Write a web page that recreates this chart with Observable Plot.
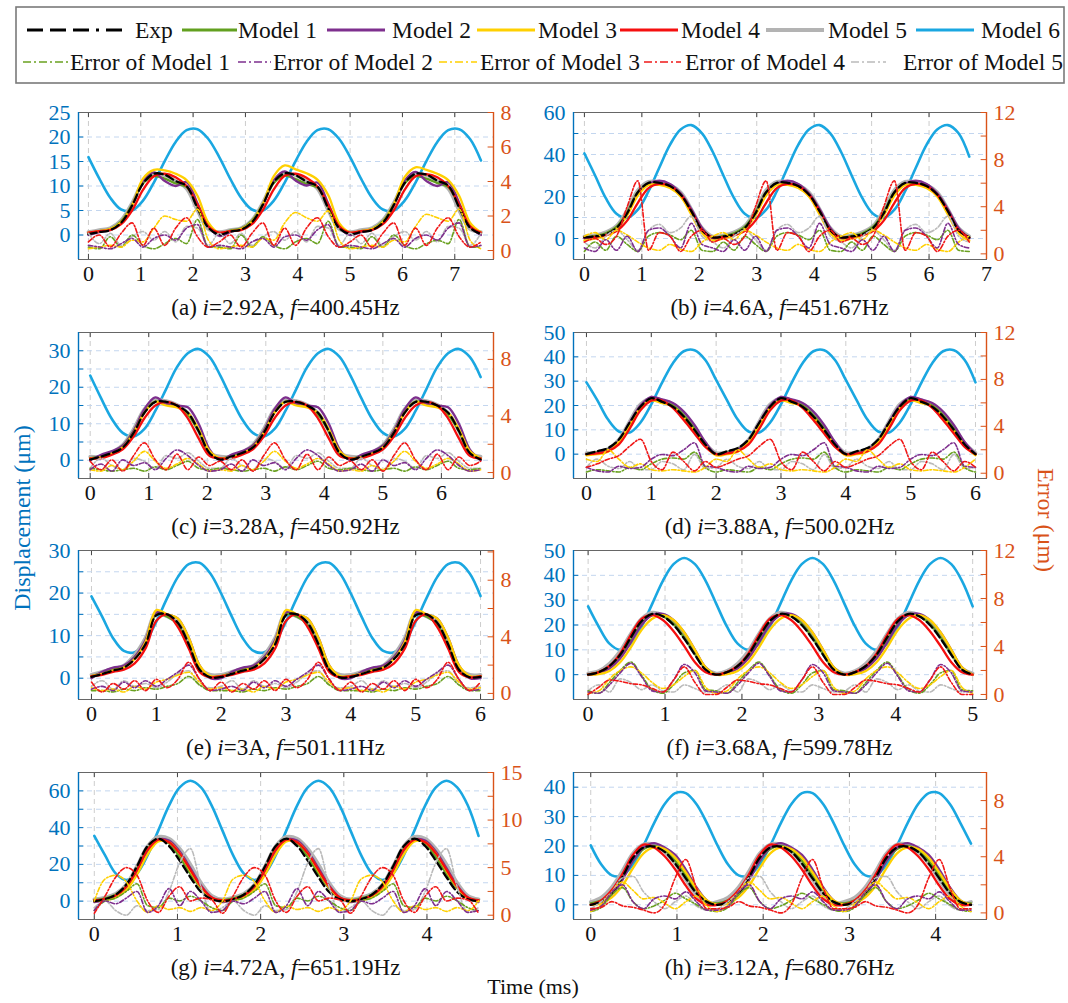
<!DOCTYPE html>
<html><head><meta charset="utf-8">
<script src="https://cdn.jsdelivr.net/npm/d3@7"></script>
<script src="https://cdn.jsdelivr.net/npm/@observablehq/plot@0.6"></script>
<style>
body{margin:0;background:#fff;font-family:"Liberation Serif",serif;}
#root{position:relative;width:1068px;height:1003px;overflow:hidden;background:#fff;}
.abs{position:absolute;}
.cap{position:absolute;transform:translate(-50%,-50%);font-size:23px;white-space:nowrap;color:#111;line-height:1;}
</style></head><body><div id="root"></div>
<script>
// ---------------- DATA ----------------
// panel captions
const panelTags = ["(a)","(b)","(c)","(d)","(e)","(f)","(g)","(h)"];
const currents = ["2.92","4.6","3.28","3.88","3","3.68","4.72","3.12"];
const freqs = ["400.45","451.67","450.92","500.02","501.11","599.78","651.19","680.76"];
// time span of the sampled records (ms)
const tEnd = [7.5, 6.7, 6.67, 6.0, 6.0, 5.0, 4.62, 4.41];
// axes
const xMin = [-0.19,-0.19,-0.2,-0.2,-0.2,-0.19,-0.19,-0.2];
const xMax = [7.74,7.0,6.89,6.17,6.2,5.18,4.8,4.59];
const xTickMax = [7,7,6,6,6,5,4,4];
const leftDomain = [[-5,25],[-10,60],[-5,35],[-10,50],[-5,30],[-10,50],[-10,70],[-5,45]];
const leftLabels = [[0,5,10,15,20,25],[0,20,40,60],[0,10,20,30],[0,10,20,30,40,50],[0,10,20,30],[0,10,20,30,40,50],[0,20,40,60],[0,10,20,30,40]];
const leftGrid = [[0,5,10,15,20],[0,10,20,30,40,50],[0,5,10,15,20,25,30],[0,10,20,30,40],[0,5,10,15,20,25],[0,10,20,30,40],[0,10,20,30,40,50,60],[0,10,20,30,40]];
const rightDomain = [[-0.52,8],[-0.48,12],[-0.42,9.9],[-0.45,12],[-0.43,10.1],[-0.42,12],[-0.45,15],[-0.47,10]];
const rightLabels = [[0,2,4,6,8],[0,4,8,12],[0,4,8],[0,4,8,12],[0,4,8],[0,4,8,12],[0,5,10,15],[0,4,8]];
const rightTicks = [[0,2,4,6,8],[0,2,4,6,8,10,12],[0,2,4,6,8],[0,2,4,6,8,10,12],[0,2,4,6,8,10],[0,2,4,6,8,10,12],[0,2.5,5,7.5,10,12.5,15],[0,2,4,6,8,10]];

// (a) i=2.92A f=400.45Hz
const a_exp = [0.2,0.6,1.0,2.5,6.0,10.5,12.5,12.3,11.0,10.0,5.5,1.5, 0.1,0.7,1.1,2.6,6.2,10.8,12.6,12.2,10.9,9.9,5.4,1.4, 0.2,0.6,1.0,2.5,6.1,10.6,12.5,12.3,11.1,10.1,5.6,1.5, 0.2];
const a_m1 = [0.3,0.8,1.2,2.8,6.2,10.5,12.0,11.5,10.5,9.8,5.8,1.8, 0.3,0.9,1.3,2.9,6.3,10.6,12.1,11.4,10.4,9.7,5.7,1.7, 0.3,0.8,1.2,2.8,6.2,10.5,12.0,11.5,10.6,9.8,5.9,1.8, 0.3];
const a_m2 = [0.0,0.6,1.1,2.5,6.0,11.0,12.8,11.0,10.0,10.8,6.5,1.8, -0.2,0.6,1.2,2.6,6.1,11.2,13.0,11.1,10.1,10.7,6.4,1.7, 0.0,0.6,1.1,2.5,6.0,11.1,12.9,11.0,10.0,10.8,6.6,1.8, 0.0];
const a_m3 = [0.5,0.8,1.2,2.6,6.0,11.5,13.3,13.2,12.5,11.2,8.0,2.5, 0.4,0.8,1.2,2.7,6.3,12.0,14.2,13.4,12.6,11.3,8.1,2.4, 0.5,0.8,1.2,2.6,6.2,11.8,13.8,13.3,12.5,11.2,8.0,2.5, 0.5];
const a_m4 = [0.5,0.8,1.0,2.2,5.0,9.2,12.0,12.5,11.8,10.0,6.2,1.8, 0.5,0.8,1.0,2.2,5.1,9.3,12.1,12.5,11.7,9.9,6.1,1.8, 0.5,0.8,1.0,2.2,5.0,9.2,12.0,12.4,11.8,10.0,6.2,1.8, 0.5];
const a_m5 = [0.6,1.0,1.4,3.0,6.5,10.8,12.5,12.2,11.0,9.5,5.0,1.2, 0.6,1.0,1.4,3.0,6.6,10.9,12.6,12.2,11.0,9.5,5.0,1.2, 0.6,1.0,1.4,3.0,6.5,10.8,12.5,12.2,11.0,9.5,5.0,1.2, 0.6];
const a_m6 = [15.9,11.5,7.6,5.2,5.0,7.0,10.7,15.1,19.0,21.4,21.6,19.6, 15.9,11.5,7.6,5.2,5.0,7.0,10.7,15.1,19.0,21.4,21.6,19.6, 15.9,11.5,7.6,5.2,5.0,7.0,10.7,15.1,19.0,21.4,21.6,19.6, 15.2];
const a_e1 = [0.2,0.1,0.8,0.2,0.9,0.3,0.1,0.4,0.7,0.4,1.8,0.2, 0.2,0.1,0.9,0.2,0.8,0.3,0.1,0.5,0.7,0.4,1.7,0.2, 0.2,0.1,0.8,0.2,0.9,0.3,0.1,0.4,0.6,0.4,1.8,0.2, 0.2];
const a_e2 = [0.3,0.2,0.1,0.4,0.7,0.2,0.7,0.9,0.6,1.3,1.5,0.2, 0.3,0.2,0.1,0.5,0.7,0.2,0.8,0.9,0.6,1.2,1.5,0.2, 0.3,0.2,0.1,0.4,0.7,0.2,0.7,0.9,0.6,1.3,1.6,0.2, 0.3];
const a_e3 = [0.1,0.2,0.3,0.2,0.6,0.5,1.3,2.0,1.8,1.7,2.4,0.6, 0.1,0.2,0.3,0.2,0.7,0.6,1.6,2.2,1.9,1.7,2.3,0.6, 0.1,0.2,0.3,0.2,0.6,0.5,1.4,2.1,1.9,1.7,2.4,0.6, 0.1];
const a_e4 = [0.5,0.9,0.2,1.0,1.6,0.3,1.3,0.3,1.3,1.9,0.8,0.2, 0.5,0.9,0.2,1.0,1.6,0.3,1.3,0.3,1.3,1.9,0.8,0.2, 0.5,0.9,0.2,1.0,1.6,0.3,1.3,0.3,1.3,1.9,0.8,0.2, 0.5];
const a_e5 = [1.0,0.4,1.0,0.3,0.8,1.1,0.6,1.1,0.5,1.4,1.3,0.3, 1.0,0.4,1.0,0.3,0.8,1.1,0.6,1.1,0.5,1.4,1.3,0.3, 1.0,0.4,1.0,0.3,0.8,1.1,0.6,1.1,0.5,1.4,1.3,0.3, 1.0];

// (b) i=4.6A f=451.67Hz
const b_exp = [0.5,1.0,2.0,5.0,12.0,22.0,26.5,26.5,25.0,21.0,13.0,4.0, 0.5,1.0,2.0,5.0,12.0,22.0,26.5,26.5,25.0,21.0,13.0,4.0, 0.5,1.0,2.0,5.0,12.0,22.0,26.5,26.5,25.0,21.0,13.0,4.0, 0.5];
const b_m1 = [0.5,1.2,2.5,5.5,12.5,22.0,26.0,26.0,24.5,20.5,12.5,4.0, 0.5,1.2,2.5,5.5,12.5,22.0,26.0,26.0,24.5,20.5,12.5,4.0, 0.5,1.2,2.5,5.5,12.5,22.0,26.0,26.0,24.5,20.5,12.5,4.0, 0.5];
const b_m2 = [0.0,0.5,1.8,4.5,11.5,21.5,26.0,27.5,26.0,21.5,14.0,5.0, 0.0,0.5,1.8,4.5,11.5,21.5,26.0,27.5,26.0,21.5,14.0,5.0, 0.0,0.5,1.8,4.5,11.5,21.5,26.0,27.5,26.0,21.5,14.0,5.0, 0.0];
const b_m3 = [-1.0,0.0,1.5,4.5,11.0,20.5,25.5,25.5,24.0,20.0,11.5,2.5, -1.0,0.0,1.5,4.5,11.0,20.5,25.5,25.5,24.0,20.0,11.5,2.5, -1.0,0.0,1.5,4.5,11.0,20.5,25.5,25.5,24.0,20.0,11.5,2.5, -1.0];
const b_m4 = [0.5,0.8,1.5,3.5,8.5,17.0,24.0,26.0,25.0,21.0,13.0,4.0, 0.5,0.8,1.5,3.5,8.5,17.0,24.0,26.0,25.0,21.0,13.0,4.0, 0.5,0.8,1.5,3.5,8.5,17.0,24.0,26.0,25.0,21.0,13.0,4.0, 0.5];
const b_m5 = [1.0,1.5,3.0,6.0,13.5,23.0,27.0,27.0,25.5,22.0,14.0,5.0, 1.0,1.5,3.0,6.0,13.5,23.0,27.0,27.0,25.5,22.0,14.0,5.0, 1.0,1.5,3.0,6.0,13.5,23.0,27.0,27.0,25.5,22.0,14.0,5.0, 1.0];
const b_m6 = [40.5,30.0,19.2,11.8,9.8,13.7,22.5,33.7,44.6,51.9,54.0,50.1, 41.3,30.0,19.2,11.8,9.8,13.7,22.5,33.7,44.6,51.9,54.0,50.1, 41.3,30.0,19.2,11.8,9.8,13.7,22.5,33.7,44.6,51.9,54.0,50.1, 39.0];
const b_e1 = [0.2,1.0,0.3,1.5,0.8,0.2,1.5,1.8,1.6,1.2,2.0,0.3, 0.2,1.0,0.3,1.5,0.8,0.2,1.5,1.8,1.6,1.2,2.0,0.3, 0.2,1.0,0.3,1.5,0.8,0.2,1.5,1.8,1.6,1.2,2.0,0.3, 0.2];
const b_e2 = [0.5,0.2,1.2,0.3,1.5,0.2,2.0,2.2,1.5,0.5,2.6,0.8, 0.5,0.2,1.2,0.3,1.5,0.2,2.0,2.2,1.5,0.5,2.6,0.8, 0.5,0.2,1.2,0.3,1.5,0.2,2.0,2.2,1.5,0.5,2.6,0.8, 0.5];
const b_e3 = [1.5,1.8,1.2,2.0,1.6,1.0,0.5,0.3,0.8,0.4,0.2,1.0, 1.5,1.8,1.2,2.0,1.6,1.0,0.5,0.3,0.8,0.4,0.2,1.0, 1.5,1.8,1.2,2.0,1.6,1.0,0.5,0.3,0.8,0.4,0.2,1.0, 1.5];
const b_e4 = [1.0,1.3,0.8,1.5,4.0,6.2,0.3,1.8,1.5,0.2,1.5,2.0, 1.0,1.3,0.8,1.5,4.0,6.2,0.3,1.8,1.5,0.2,1.5,2.0, 1.0,1.3,0.8,1.5,4.0,6.2,0.3,1.8,1.5,0.2,1.5,2.0, 1.0];
const b_e5 = [1.0,0.5,1.5,2.0,1.2,0.3,2.0,2.5,1.8,2.2,3.2,1.5, 1.0,0.5,1.5,2.0,1.2,0.3,2.0,2.5,1.8,2.2,3.2,1.5, 1.0,0.5,1.5,2.0,1.2,0.3,2.0,2.5,1.8,2.2,3.2,1.5, 1.0];

// (c) i=3.28A f=450.92Hz
const c_exp = [0.2,1.0,2.0,3.5,7.5,13.0,16.0,16.0,15.0,13.0,8.0,2.0, 0.2,1.0,2.0,3.5,7.5,13.0,16.0,16.0,15.0,13.0,8.0,2.0, 0.2,1.0,2.0,3.5,7.5,13.0,16.0,16.0,15.0,13.0,8.0,2.0, 0.2];
const c_m1 = [0.5,1.2,2.2,4.0,8.0,13.5,16.0,15.5,14.8,12.5,8.0,2.0, 0.5,1.2,2.2,4.0,8.0,13.5,16.0,15.5,14.8,12.5,8.0,2.0, 0.5,1.2,2.2,4.0,8.0,13.5,16.0,15.5,14.8,12.5,8.0,2.0, 0.5];
const c_m2 = [0.0,1.5,2.5,4.0,8.0,14.0,17.2,15.5,15.0,14.5,10.0,3.0, 0.0,1.5,2.5,4.0,8.0,14.0,17.2,15.5,15.0,14.5,10.0,3.0, 0.0,1.5,2.5,4.0,8.0,14.0,17.2,15.5,15.0,14.5,10.0,3.0, 0.0];
const c_m3 = [0.5,0.8,1.8,3.5,7.5,13.0,16.0,15.0,14.5,13.0,8.5,2.5, 0.5,0.8,1.8,3.5,7.5,13.0,16.0,15.0,14.5,13.0,8.5,2.5, 0.5,0.8,1.8,3.5,7.5,13.0,16.0,15.0,14.5,13.0,8.5,2.5, 0.5];
const c_m4 = [0.5,0.5,1.5,3.0,6.5,11.5,15.0,16.0,15.0,11.5,6.0,1.2, 0.5,0.5,1.5,3.0,6.5,11.5,15.0,16.0,15.0,11.5,6.0,1.2, 0.5,0.5,1.5,3.0,6.5,11.5,15.0,16.0,15.0,11.5,6.0,1.2, 0.5];
const c_m5 = [1.0,1.0,2.2,4.2,8.5,14.0,16.5,16.2,15.2,13.0,8.0,2.0, 1.0,1.0,2.2,4.2,8.5,14.0,16.5,16.2,15.2,13.0,8.0,2.0, 1.0,1.0,2.2,4.2,8.5,14.0,16.5,16.2,15.2,13.0,8.0,2.0, 1.0];
const c_m6 = [23.2,17.0,11.3,7.5,6.5,8.6,13.5,19.5,25.5,29.3,30.5,28.3, 23.2,17.0,11.3,7.5,6.5,8.6,13.5,19.5,25.5,29.3,30.5,28.3, 23.2,17.0,11.3,7.5,6.5,8.6,13.5,19.5,25.5,29.3,30.5,28.3, 22.8];
const c_e1 = [0.3,0.2,0.1,0.2,0.3,0.1,0.4,0.2,0.5,0.8,0.3,0.2, 0.3,0.2,0.1,0.2,0.3,0.1,0.4,0.2,0.5,0.8,0.3,0.2, 0.3,0.2,0.1,0.2,0.3,0.1,0.4,0.2,0.5,0.8,0.3,0.2, 0.3];
const c_e2 = [0.2,0.6,0.1,0.9,0.5,0.7,0.2,1.0,1.6,1.2,0.5,0.1, 0.2,0.6,0.1,0.9,0.5,0.7,0.2,1.0,1.6,1.2,0.5,0.1, 0.2,0.6,0.1,0.9,0.5,0.7,0.2,1.0,1.6,1.2,0.5,0.1, 0.2];
const c_e3 = [0.2,0.1,0.5,0.2,0.8,1.5,0.8,0.3,0.6,1.0,0.6,0.1, 0.2,0.1,0.5,0.2,0.8,1.5,0.8,0.3,0.6,1.0,0.6,0.1, 0.2,0.1,0.5,0.2,0.8,1.5,0.8,0.3,0.6,1.0,0.6,0.1, 0.2];
const c_e4 = [0.8,0.2,0.9,0.1,1.2,2.1,0.9,0.2,1.3,0.2,1.1,0.5, 0.8,0.2,0.9,0.1,1.2,2.1,0.9,0.2,1.3,0.2,1.1,0.5, 0.8,0.2,0.9,0.1,1.2,2.1,0.9,0.2,1.3,0.2,1.1,0.5, 0.8];
const c_e5 = [0.3,1.0,0.5,0.2,1.0,0.8,0.3,1.2,1.0,1.4,0.8,0.3, 0.3,1.0,0.5,0.2,1.0,0.8,0.3,1.2,1.0,1.4,0.8,0.3, 0.3,1.0,0.5,0.2,1.0,0.8,0.3,1.2,1.0,1.4,0.8,0.3, 0.3];

// (d) i=3.88A f=500.02Hz
const d_exp = [0.0,1.2,2.5,6.0,13.0,19.5,23.0,21.5,19.5,15.5,10.0,4.0, 0.0,1.2,2.5,6.0,13.0,19.5,23.0,21.5,19.5,15.5,10.0,4.0, 0.0,1.2,2.5,6.0,13.0,19.5,23.0,21.5,19.5,15.5,10.0,4.0, 0.0];
const d_m1 = [0.0,0.8,2.0,5.5,12.5,19.5,22.5,21.5,20.0,16.0,10.5,4.0, 0.0,0.8,2.0,5.5,12.5,19.5,22.5,21.5,20.0,16.0,10.5,4.0, 0.0,0.8,2.0,5.5,12.5,19.5,22.5,21.5,20.0,16.0,10.5,4.0, 0.0];
const d_m2 = [0.0,0.5,1.8,5.5,13.0,20.0,23.5,22.5,21.0,17.5,12.0,5.0, 0.0,0.5,1.8,5.5,13.0,20.0,23.5,22.5,21.0,17.5,12.0,5.0, 0.0,0.5,1.8,5.5,13.0,20.0,23.5,22.5,21.0,17.5,12.0,5.0, 0.0];
const d_m3 = [-0.5,0.0,1.0,5.0,12.0,19.0,22.0,21.0,19.5,15.0,9.5,3.5, -0.5,0.0,1.0,5.0,12.0,19.0,22.0,21.0,19.5,15.0,9.5,3.5, -0.5,0.0,1.0,5.0,12.0,19.0,22.0,21.0,19.5,15.0,9.5,3.5, -0.5];
const d_m4 = [0.0,0.3,1.2,4.0,10.5,18.0,22.0,22.0,19.0,14.0,8.5,3.0, 0.0,0.3,1.2,4.0,10.5,18.0,22.0,22.0,19.0,14.0,8.5,3.0, 0.0,0.3,1.2,4.0,10.5,18.0,22.0,22.0,19.0,14.0,8.5,3.0, 0.0];
const d_m5 = [0.5,0.8,2.2,6.0,13.5,20.5,23.0,22.0,20.5,16.5,11.0,4.5, 0.5,0.8,2.2,6.0,13.5,20.5,23.0,22.0,20.5,16.5,11.0,4.5, 0.5,0.8,2.2,6.0,13.5,20.5,23.0,22.0,20.5,16.5,11.0,4.5, 0.5];
const d_m6 = [29.5,22.2,14.2,9.3,8.9,13.0,20.5,29.4,37.4,42.3,42.7,38.7, 30.5,22.2,14.2,9.3,8.9,13.0,20.5,29.4,37.4,42.3,42.7,38.7, 30.5,22.2,14.2,9.3,8.9,13.0,20.5,29.4,37.4,42.3,42.7,38.7, 29.5];
const d_e1 = [0.1,0.3,0.2,0.1,0.5,0.3,0.8,1.2,1.3,1.2,1.8,0.5, 0.1,0.3,0.2,0.1,0.5,0.3,0.8,1.2,1.3,1.2,1.8,0.5, 0.1,0.3,0.2,0.1,0.5,0.3,0.8,1.2,1.3,1.2,1.8,0.5, 0.1];
const d_e2 = [0.5,0.2,0.1,0.6,0.4,0.5,1.2,1.6,1.5,2.0,2.6,0.6, 0.5,0.2,0.1,0.6,0.4,0.5,1.2,1.6,1.5,2.0,2.6,0.6, 0.5,0.2,0.1,0.6,0.4,0.5,1.2,1.6,1.5,2.0,2.6,0.6, 0.5];
const d_e3 = [1.2,1.0,2.0,1.2,0.5,0.8,0.3,0.2,0.3,0.2,0.1,0.5, 1.2,1.0,2.0,1.2,0.5,0.8,0.3,0.2,0.3,0.2,0.1,0.5, 1.2,1.0,2.0,1.2,0.5,0.8,0.3,0.2,0.3,0.2,0.1,0.5, 1.2];
const d_e4 = [0.5,0.8,1.2,1.5,2.3,2.9,1.0,0.3,1.8,1.0,0.2,1.0, 0.5,0.8,1.2,1.5,2.3,2.9,1.0,0.3,1.8,1.0,0.2,1.0, 0.5,0.8,1.2,1.5,2.3,2.9,1.0,0.3,1.8,1.0,0.2,1.0, 0.5];
const d_e5 = [0.5,1.2,0.6,0.4,1.0,0.3,0.3,1.0,0.8,0.3,1.6,0.4, 0.5,1.2,0.6,0.4,1.0,0.3,0.3,1.0,0.8,0.3,1.6,0.4, 0.5,1.2,0.6,0.4,1.0,0.3,0.3,1.0,0.8,0.3,1.6,0.4, 0.5];

// (e) i=3A f=501.11Hz
const e_exp = [0.3,1.0,1.8,2.5,4.5,8.0,14.8,15.0,13.0,8.0,2.0,0.2, 0.3,1.0,1.8,2.5,4.5,8.0,14.8,15.0,13.0,8.0,2.0,0.2, 0.3,1.0,1.8,2.5,4.5,8.0,14.8,15.0,13.0,8.0,2.0,0.2, 0.3];
const e_m1 = [0.5,1.2,2.0,2.8,5.0,8.5,15.0,14.5,12.5,7.5,2.0,0.3, 0.5,1.2,2.0,2.8,5.0,8.5,15.0,14.5,12.5,7.5,2.0,0.3, 0.5,1.2,2.0,2.8,5.0,8.5,15.0,14.5,12.5,7.5,2.0,0.3, 0.5];
const e_m2 = [0.0,1.5,2.5,3.0,5.0,9.0,15.5,15.0,14.0,9.5,3.0,0.0, 0.0,1.5,2.5,3.0,5.0,9.0,15.5,15.0,14.0,9.5,3.0,0.0, 0.0,1.5,2.5,3.0,5.0,9.0,15.5,15.0,14.0,9.5,3.0,0.0, 0.0];
const e_m3 = [0.5,1.0,1.8,2.5,4.5,8.5,16.0,15.0,14.0,9.5,3.0,0.5, 0.5,1.0,1.8,2.5,4.5,8.5,16.0,15.0,14.0,9.5,3.0,0.5, 0.5,1.0,1.8,2.5,4.5,8.5,16.0,15.0,14.0,9.5,3.0,0.5, 0.5];
const e_m4 = [0.5,0.8,1.5,2.0,3.5,7.0,13.5,15.0,12.0,7.0,1.5,0.2, 0.5,0.8,1.5,2.0,3.5,7.0,13.5,15.0,12.0,7.0,1.5,0.2, 0.5,0.8,1.5,2.0,3.5,7.0,13.5,15.0,12.0,7.0,1.5,0.2, 0.5];
const e_m5 = [0.8,1.5,2.2,3.0,5.5,9.5,15.5,14.5,13.0,8.0,2.5,0.8, 0.8,1.5,2.2,3.0,5.5,9.5,15.5,14.5,13.0,8.0,2.5,0.8, 0.8,1.5,2.2,3.0,5.5,9.5,15.5,14.5,13.0,8.0,2.5,0.8, 0.8];
const e_m6 = [19.2,14.4,9.4,6.4,6.1,8.6,13.3,18.8,23.8,26.8,27.1,24.6, 19.9,14.4,9.4,6.4,6.1,8.6,13.3,18.8,23.8,26.8,27.1,24.6, 19.9,14.4,9.4,6.4,6.1,8.6,13.3,18.8,23.8,26.8,27.1,24.6, 19.3];
const e_e1 = [0.2,0.2,0.1,0.3,0.2,0.4,0.3,0.5,0.7,1.2,0.6,0.2, 0.2,0.2,0.1,0.3,0.2,0.4,0.3,0.5,0.7,1.2,0.6,0.2, 0.2,0.2,0.1,0.3,0.2,0.4,0.3,0.5,0.7,1.2,0.6,0.2, 0.2];
const e_e2 = [0.3,0.5,0.2,0.8,0.4,0.9,0.5,1.0,1.5,2.0,1.0,0.2, 0.3,0.5,0.2,0.8,0.4,0.9,0.5,1.0,1.5,2.0,1.0,0.2, 0.3,0.5,0.2,0.8,0.4,0.9,0.5,1.0,1.5,2.0,1.0,0.2, 0.3];
const e_e3 = [0.4,0.2,0.3,0.1,0.5,0.3,0.8,1.0,1.3,1.5,0.8,0.3, 0.4,0.2,0.3,0.1,0.5,0.3,0.8,1.0,1.3,1.5,0.8,0.3, 0.4,0.2,0.3,0.1,0.5,0.3,0.8,1.0,1.3,1.5,0.8,0.3, 0.4];
const e_e4 = [0.8,0.1,0.7,0.3,0.9,0.2,1.0,0.4,1.0,2.2,1.0,0.2, 0.8,0.1,0.7,0.3,0.9,0.2,1.0,0.4,1.0,2.2,1.0,0.2, 0.8,0.1,0.7,0.3,0.9,0.2,1.0,0.4,1.0,2.2,1.0,0.2, 0.8];
const e_e5 = [0.5,0.9,0.3,0.9,0.5,0.7,0.4,0.8,1.4,1.6,0.6,0.4, 0.5,0.9,0.3,0.9,0.5,0.7,0.4,0.8,1.4,1.6,0.6,0.4, 0.5,0.9,0.3,0.9,0.5,0.7,0.4,0.8,1.4,1.6,0.6,0.4, 0.5];

// (f) i=3.68A f=599.78Hz
const f_exp = [0.0,1.0,3.5,8.0,15.0,21.5,24.5,23.5,20.0,14.5,8.0,2.0, 0.0,1.0,3.5,8.0,15.0,21.5,24.5,23.5,20.0,14.5,8.0,2.0, 0.0,1.0,3.5,8.0,15.0,21.5,24.5,23.5,20.0,14.5,8.0,2.0, 0.0];
const f_m1 = [0.0,1.0,3.0,7.5,14.0,20.5,24.0,23.5,20.5,15.0,8.5,2.5, 0.0,1.0,3.0,7.5,14.0,20.5,24.0,23.5,20.5,15.0,8.5,2.5, 0.0,1.0,3.0,7.5,14.0,20.5,24.0,23.5,20.5,15.0,8.5,2.5, 0.0];
const f_m2 = [0.0,0.5,2.5,6.5,13.0,20.0,24.0,24.5,22.0,17.0,10.0,3.0, 0.0,0.5,2.5,6.5,13.0,20.0,24.0,24.5,22.0,17.0,10.0,3.0, 0.0,0.5,2.5,6.5,13.0,20.0,24.0,24.5,22.0,17.0,10.0,3.0, 0.0];
const f_m3 = [0.0,0.2,1.5,5.0,11.0,18.0,22.5,24.0,22.0,17.0,10.0,3.0, 0.0,0.2,1.5,5.0,11.0,18.0,22.5,24.0,22.0,17.0,10.0,3.0, 0.0,0.2,1.5,5.0,11.0,18.0,22.5,24.0,22.0,17.0,10.0,3.0, 0.0];
const f_m4 = [0.0,1.0,3.5,8.5,16.0,22.5,24.0,22.0,17.5,11.5,5.0,1.0, 0.0,1.0,3.5,8.5,16.0,22.5,24.0,22.0,17.5,11.5,5.0,1.0, 0.0,1.0,3.5,8.5,16.0,22.5,24.0,22.0,17.5,11.5,5.0,1.0, 0.0];
const f_m5 = [0.5,1.5,4.5,9.5,16.5,22.5,25.0,24.0,20.5,15.0,8.5,2.5, 0.5,1.5,4.5,9.5,16.5,22.5,25.0,24.0,20.5,15.0,8.5,2.5, 0.5,1.5,4.5,9.5,16.5,22.5,25.0,24.0,20.5,15.0,8.5,2.5, 0.5];
const f_m6 = [27.5,19.3,12.5,10.0,12.5,19.3,28.5,37.8,44.5,47.0,44.5,37.8, 28.5,19.3,12.5,10.0,12.5,19.3,28.5,37.8,44.5,47.0,44.5,37.8, 28.5,19.3,12.5,10.0,12.5,19.3,28.5,37.8,44.5,47.0,44.5,37.8, 27.5];
const f_e1 = [0.3,0.1,1.0,2.0,2.7,1.6,0.4,0.1,0.8,1.8,2.0,0.4, 0.3,0.1,1.0,2.0,2.7,1.6,0.4,0.1,0.8,1.8,2.0,0.4, 0.3,0.1,1.0,2.0,2.7,1.6,0.4,0.1,0.8,1.8,2.0,0.4, 0.3];
const f_e2 = [0.2,0.1,0.8,1.8,2.6,1.5,0.3,0.2,1.2,2.5,1.8,0.3, 0.2,0.1,0.8,1.8,2.6,1.5,0.3,0.2,1.2,2.5,1.8,0.3, 0.2,0.1,0.8,1.8,2.6,1.5,0.3,0.2,1.2,2.5,1.8,0.3, 0.2];
const f_e3 = [0.1,0.3,1.3,2.0,2.3,1.8,1.0,0.5,0.8,1.5,2.0,0.6, 0.1,0.3,1.3,2.0,2.3,1.8,1.0,0.5,0.8,1.5,2.0,0.6, 0.1,0.3,1.3,2.0,2.3,1.8,1.0,0.5,0.8,1.5,2.0,0.6, 0.1];
const f_e4 = [0.0,0.6,1.2,1.1,0.9,0.8,0.5,0.2,1.2,2.3,1.0,0.0, 0.0,0.6,1.2,1.1,0.9,0.8,0.5,0.2,1.2,2.3,1.0,0.0, 0.0,0.6,1.2,1.1,0.9,0.8,0.5,0.2,1.2,2.3,1.0,0.0, 0.0];
const f_e5 = [0.3,0.8,0.2,1.3,1.0,0.4,0.8,0.3,0.2,0.8,0.5,0.2, 0.3,0.8,0.2,1.3,1.0,0.4,0.8,0.3,0.2,0.8,0.5,0.2, 0.3,0.8,0.2,1.3,1.0,0.4,0.8,0.3,0.2,0.8,0.5,0.2, 0.3];

// (g) i=4.72A f=651.19Hz
const g_exp = [0.0,1.0,3.5,9.0,19.0,30.0,34.0,30.0,22.0,13.0,5.0,1.0, 0.0,1.0,3.5,9.0,19.0,30.0,34.0,30.0,22.0,13.0,5.0,1.0, 0.0,1.0,3.5,9.0,19.0,30.0,34.0,30.0,22.0,13.0,5.0,1.0, 0.0];
const g_m1 = [0.5,1.5,3.5,8.0,17.5,28.5,33.5,31.5,24.0,15.0,7.0,1.5, 0.5,1.5,3.5,8.0,17.5,28.5,33.5,31.5,24.0,15.0,7.0,1.5, 0.5,1.5,3.5,8.0,17.5,28.5,33.5,31.5,24.0,15.0,7.0,1.5, 0.5];
const g_m2 = [-0.5,0.5,2.5,7.0,16.0,27.0,33.5,33.0,27.0,18.0,8.5,2.0, -0.5,0.5,2.5,7.0,16.0,27.0,33.5,33.0,27.0,18.0,8.5,2.0, -0.5,0.5,2.5,7.0,16.0,27.0,33.5,33.0,27.0,18.0,8.5,2.0, -0.5];
const g_m3 = [0.0,0.5,2.0,6.0,14.5,25.5,32.5,32.0,26.0,16.5,7.5,1.5, 0.0,0.5,2.0,6.0,14.5,25.5,32.5,32.0,26.0,16.5,7.5,1.5, 0.0,0.5,2.0,6.0,14.5,25.5,32.5,32.0,26.0,16.5,7.5,1.5, 0.0];
const g_m4 = [0.5,1.0,3.0,8.0,17.0,28.0,33.5,32.0,26.0,17.0,8.0,2.0, 0.5,1.0,3.0,8.0,17.0,28.0,33.5,32.0,26.0,17.0,8.0,2.0, 0.5,1.0,3.0,8.0,17.0,28.0,33.5,32.0,26.0,17.0,8.0,2.0, 0.5];
const g_m5 = [1.0,2.0,4.0,9.0,19.0,30.0,35.0,34.0,28.5,20.0,10.0,3.0, 1.0,2.0,4.0,9.0,19.0,30.0,35.0,34.0,28.5,20.0,10.0,3.0, 1.0,2.0,4.0,9.0,19.0,30.0,35.0,34.0,28.5,20.0,10.0,3.0, 1.0];
const g_m6 = [35.5,25.0,15.1,11.5,15.1,25.0,38.5,52.0,61.9,65.5,61.9,52.0, 38.5,25.0,15.1,11.5,15.1,25.0,38.5,52.0,61.9,65.5,61.9,52.0, 38.5,25.0,15.1,11.5,15.1,25.0,38.5,52.0,61.9,65.5,61.9,52.0, 35.5];
const g_e1 = [0.5,1.5,1.8,2.5,3.3,1.0,0.8,1.8,1.5,2.0,1.5,0.8, 0.5,1.5,1.8,2.5,3.3,1.0,0.8,1.8,1.5,2.0,1.5,0.8, 0.5,1.5,1.8,2.5,3.3,1.0,0.8,1.8,1.5,2.0,1.5,0.8, 0.5];
const g_e2 = [0.5,1.5,1.2,1.8,2.5,0.3,1.0,2.8,1.0,2.5,1.5,0.3, 0.5,1.5,1.2,1.8,2.5,0.3,1.0,2.8,1.0,2.5,1.5,0.3, 0.5,1.5,1.2,1.8,2.5,0.3,1.0,2.8,1.0,2.5,1.5,0.3, 0.5];
const g_e3 = [1.5,3.8,4.2,3.5,1.5,0.3,1.0,0.6,0.8,0.4,0.8,0.5, 1.5,3.8,4.2,3.5,1.5,0.3,1.0,0.6,0.8,0.4,0.8,0.5, 1.5,3.8,4.2,3.5,1.5,0.3,1.0,0.6,0.8,0.4,0.8,0.5, 1.5];
const g_e4 = [0.2,2.0,4.0,5.0,4.2,1.5,0.3,2.0,3.0,1.5,1.8,1.6, 0.2,2.0,4.0,5.0,4.2,1.5,0.3,2.0,3.0,1.5,1.8,1.6, 0.2,2.0,4.0,5.0,4.2,1.5,0.3,2.0,3.0,1.5,1.8,1.6, 0.2];
const g_e5 = [0.8,1.5,0.5,0.0,1.0,0.5,0.6,2.5,5.5,7.0,3.0,0.3, 0.8,1.5,0.5,0.0,1.0,0.5,0.6,2.5,5.5,7.0,3.0,0.3, 0.8,1.5,0.5,0.0,1.0,0.5,0.6,2.5,5.5,7.0,3.0,0.3, 0.8];

// (h) i=3.12A f=680.76Hz
const h_exp = [0.0,1.0,4.0,9.5,16.0,19.5,19.8,18.0,14.0,9.0,4.0,1.0, 0.0,1.0,4.0,9.5,16.0,19.5,19.8,18.0,14.0,9.0,4.0,1.0, 0.0,1.0,4.0,9.5,16.0,19.5,19.8,18.0,14.0,9.0,4.0,1.0, 0.0];
const h_m1 = [0.5,1.5,4.0,9.0,15.0,19.0,20.0,18.5,15.0,10.0,5.0,1.0, 0.5,1.5,4.0,9.0,15.0,19.0,20.0,18.5,15.0,10.0,5.0,1.0, 0.5,1.5,4.0,9.0,15.0,19.0,20.0,18.5,15.0,10.0,5.0,1.0, 0.5];
const h_m2 = [0.0,1.0,3.5,8.5,15.0,19.5,21.0,19.5,17.0,12.0,6.0,1.5, 0.0,1.0,3.5,8.5,15.0,19.5,21.0,19.5,17.0,12.0,6.0,1.5, 0.0,1.0,3.5,8.5,15.0,19.5,21.0,19.5,17.0,12.0,6.0,1.5, 0.0];
const h_m3 = [0.0,0.5,2.5,6.5,12.5,17.5,19.5,19.0,16.0,11.0,5.5,1.5, 0.0,0.5,2.5,6.5,12.5,17.5,19.5,19.0,16.0,11.0,5.5,1.5, 0.0,0.5,2.5,6.5,12.5,17.5,19.5,19.0,16.0,11.0,5.5,1.5, 0.0];
const h_m4 = [0.0,1.5,5.0,10.5,17.0,20.5,19.5,16.5,12.0,6.5,2.0,0.0, 0.0,1.5,5.0,10.5,17.0,20.5,19.5,16.5,12.0,6.5,2.0,0.0, 0.0,1.5,5.0,10.5,17.0,20.5,19.5,16.5,12.0,6.5,2.0,0.0, 0.0];
const h_m5 = [1.0,2.5,6.0,11.5,17.5,20.5,20.5,18.0,14.0,8.5,3.5,0.5, 1.0,2.5,6.0,11.5,17.5,20.5,20.5,18.0,14.0,8.5,3.5,0.5, 1.0,2.5,6.0,11.5,17.5,20.5,20.5,18.0,14.0,8.5,3.5,0.5, 1.0];
const h_m6 = [20.2,13.7,10.0,10.0,13.7,20.2,27.8,34.3,38.0,38.0,34.3,27.8, 20.2,13.7,10.0,10.0,13.7,20.2,27.8,34.3,38.0,38.0,34.3,27.8, 20.2,13.7,10.0,10.0,13.7,20.2,27.8,34.3,38.0,38.0,34.3,27.8, 20.8];
const h_e1 = [0.1,0.4,1.3,1.8,0.8,0.3,0.5,0.9,1.4,1.0,0.6,0.2, 0.1,0.4,1.3,1.8,0.8,0.3,0.5,0.9,1.4,1.0,0.6,0.2, 0.1,0.4,1.3,1.8,0.8,0.3,0.5,0.9,1.4,1.0,0.6,0.2, 0.1];
const h_e2 = [0.2,0.5,1.5,2.0,0.8,0.3,1.0,1.2,1.0,1.5,0.8,0.2, 0.2,0.5,1.5,2.0,0.8,0.3,1.0,1.2,1.0,1.5,0.8,0.2, 0.2,0.5,1.5,2.0,0.8,0.3,1.0,1.2,1.0,1.5,0.8,0.2, 0.2];
const h_e3 = [0.1,0.6,1.5,2.2,1.6,1.0,1.1,0.7,0.3,0.8,1.2,0.5, 0.1,0.6,1.5,2.2,1.6,1.0,1.1,0.7,0.3,0.8,1.2,0.5, 0.1,0.6,1.5,2.2,1.6,1.0,1.1,0.7,0.3,0.8,1.2,0.5, 0.1];
const h_e4 = [0.3,0.4,0.8,0.5,0.4,0.2,0.0,0.6,2.5,3.8,1.8,0.3, 0.3,0.4,0.8,0.5,0.4,0.2,0.0,0.6,2.5,3.8,1.8,0.3, 0.3,0.4,0.8,0.5,0.4,0.2,0.0,0.6,2.5,3.8,1.8,0.3, 0.3];
const h_e5 = [0.3,0.8,1.5,2.5,2.6,1.5,0.8,0.3,0.8,1.2,0.5,0.2, 0.3,0.8,1.5,2.5,2.6,1.5,0.8,0.3,0.8,1.2,0.5,0.2, 0.3,0.8,1.5,2.5,2.6,1.5,0.8,0.3,0.8,1.2,0.5,0.2, 0.3];

// ---------------- STYLES ----------------
const AX_BLUE = "#0072BD", AX_ORANGE = "#D95319";
const lineStyle = {
  m6: {stroke:"#1aa7e1", w:2.6},
  m5: {stroke:"#b3b3b3", w:3.6},
  m1: {stroke:"#62a01f", w:2.3},
  m2: {stroke:"#7e2f8e", w:2.3},
  m3: {stroke:"#ffd000", w:2.3},
  m4: {stroke:"#f50f0f", w:2.3},
  exp:{stroke:"#000000", w:2.3, dash:"8,4"}
};
const errStyle = {
  e5:{stroke:"#bababa"}, e1:{stroke:"#6aa121"}, e2:{stroke:"#7e2f8e"}, e3:{stroke:"#ffd000"}, e4:{stroke:"#f01818"}
};
const dispOrder = ["m6","m5","m1","m2","m3","m4","exp"];
const errOrder = ["e5","e1","e3","e2","e4"];

const panels = [
  {exp:a_exp,m1:a_m1,m2:a_m2,m3:a_m3,m4:a_m4,m5:a_m5,m6:a_m6,e1:a_e1,e2:a_e2,e3:a_e3,e4:a_e4,e5:a_e5},
  {exp:b_exp,m1:b_m1,m2:b_m2,m3:b_m3,m4:b_m4,m5:b_m5,m6:b_m6,e1:b_e1,e2:b_e2,e3:b_e3,e4:b_e4,e5:b_e5},
  {exp:c_exp,m1:c_m1,m2:c_m2,m3:c_m3,m4:c_m4,m5:c_m5,m6:c_m6,e1:c_e1,e2:c_e2,e3:c_e3,e4:c_e4,e5:c_e5},
  {exp:d_exp,m1:d_m1,m2:d_m2,m3:d_m3,m4:d_m4,m5:d_m5,m6:d_m6,e1:d_e1,e2:d_e2,e3:d_e3,e4:d_e4,e5:d_e5},
  {exp:e_exp,m1:e_m1,m2:e_m2,m3:e_m3,m4:e_m4,m5:e_m5,m6:e_m6,e1:e_e1,e2:e_e2,e3:e_e3,e4:e_e4,e5:e_e5},
  {exp:f_exp,m1:f_m1,m2:f_m2,m3:f_m3,m4:f_m4,m5:f_m5,m6:f_m6,e1:f_e1,e2:f_e2,e3:f_e3,e4:f_e4,e5:f_e5},
  {exp:g_exp,m1:g_m1,m2:g_m2,m3:g_m3,m4:g_m4,m5:g_m5,m6:g_m6,e1:g_e1,e2:g_e2,e3:g_e3,e4:g_e4,e5:g_e5},
  {exp:h_exp,m1:h_m1,m2:h_m2,m3:h_m3,m4:h_m4,m5:h_m5,m6:h_m6,e1:h_e1,e2:h_e2,e3:h_e3,e4:h_e4,e5:h_e5}
];

function rows(vals, tEndK){
  const n = vals.length - 1;
  return vals.map((v,i)=>({t: i*tEndK/n, v}));
}

// ---------------- LAYOUT ----------------
const root = document.getElementById("root");
const colL=[78,573], colR=[493,986], rowT=[112,332,550,772], rowB=[259,478,699,919];
const mL=60, mR=60, mT=14, mB=36;
const FONT = "'Liberation Serif', 'Times New Roman', serif";

panels.forEach((p,k)=>{
  const col=k%2, row=Math.floor(k/2);
  const L=colL[col], R=colR[col], T=rowT[row], B=rowB[row];
  const W=R-L+mL+mR, H=B-T+mT+mB;
  const x0=xMin[k], x1=xMax[k];
  const [y0,y1]=leftDomain[k], [r0,r1]=rightDomain[k];
  const xt=d3.range(0, xTickMax[k]+1);
  const dx=(x1-x0)*0.013, dy=(y1-y0)*0.035;

  const dispMarks = dispOrder.map(key=>{
    const s=lineStyle[key];
    return Plot.line(rows(p[key], tEnd[k]), {x:"t", y:"v", stroke:s.stroke, strokeWidth:s.w, strokeDasharray:s.dash, curve:"catmull-rom"});
  });
  const svg1 = Plot.plot({
    width:W, height:H, marginLeft:mL, marginRight:mR, marginTop:mT, marginBottom:mB,
    x:{domain:[x0,x1]}, y:{domain:[y0,y1]},
    style:{background:"transparent", fontFamily:FONT, fontSize:"22px", overflow:"visible"},
    marks:[
      Plot.ruleX(xt, {stroke:"#cdcdcd", strokeDasharray:"5,4", strokeWidth:1}),
      Plot.ruleY(leftGrid[k], {stroke:"#c3d6ef", strokeDasharray:"5,4", strokeWidth:1}),
      ...dispMarks,
      Plot.ruleX(xt, {y1:y0, y2:y0+dy, stroke:"#444"}),
      Plot.ruleX(xt, {y1:y1-dy, y2:y1, stroke:"#444"}),
      Plot.ruleY(leftGrid[k], {x1:x0, x2:x0+dx, stroke:AX_BLUE}),
      Plot.frame({stroke:"#666", strokeWidth:1}),
      Plot.ruleX([x0], {stroke:AX_BLUE, strokeWidth:1.4}),
      Plot.axisX(xt, {anchor:"bottom", tickSize:0, tickPadding:6, fontSize:22, color:"#111", label:null}),
      Plot.axisY(leftLabels[k], {anchor:"left", tickSize:0, tickPadding:8, fontSize:22, color:AX_BLUE, label:null})
    ]
  });
  const errMarks = errOrder.map(key=>Plot.line(rows(p[key], tEnd[k]), {x:"t", y:"v", stroke:errStyle[key].stroke, strokeWidth:1.6, strokeDasharray:"4.5,2,1.5,2", curve:"monotone-x"}));
  const svg2 = Plot.plot({
    width:W, height:H, marginLeft:mL, marginRight:mR, marginTop:mT, marginBottom:mB,
    x:{domain:[x0,x1], axis:null}, y:{domain:[r0,r1]},
    style:{background:"transparent", fontFamily:FONT, fontSize:"22px", overflow:"visible"},
    marks:[
      ...errMarks,
      Plot.ruleY(rightTicks[k], {x1:x1-dx, x2:x1, stroke:AX_ORANGE}),
      Plot.ruleX([x1], {stroke:AX_ORANGE, strokeWidth:1.4}),
      Plot.axisY(rightLabels[k], {anchor:"right", tickSize:0, tickPadding:7, fontSize:22, color:AX_ORANGE, label:null})
    ]
  });
  for (const s of [svg1, svg2]) {
    s.style.position="absolute"; s.style.left=(L-mL)+"px"; s.style.top=(T-mT)+"px"; s.style.maxWidth="none";
    root.appendChild(s);
  }
  const cap=document.createElement("div");
  cap.className="cap";
  cap.style.left=((L+R)/2)+"px"; cap.style.top=(B+48)+"px";
  cap.style.fontFamily=FONT;
  cap.innerHTML=`${panelTags[k]} <i>i</i>=${currents[k]}A, <i>f</i>=${freqs[k]}Hz`;
  root.appendChild(cap);
});

// axis titles
function addText(txt, x, y, rot, color, size){
  const d=document.createElement("div");
  d.className="abs";
  d.textContent=txt;
  d.style.left=x+"px"; d.style.top=y+"px";
  d.style.transform=`translate(-50%,-50%) rotate(${rot}deg)`;
  d.style.color=color; d.style.fontSize=size+"px"; d.style.fontFamily=FONT;
  d.style.whiteSpace="nowrap"; d.style.lineHeight="1";
  root.appendChild(d);
}
addText("Displacement (\u03bcm)", 22, 518, -90, AX_BLUE, 24);
addText("Error (\u03bcm)", 1046, 520, 90, AX_ORANGE, 24);
addText("Time (ms)", 533, 987, 0, "#111", 22);

// legend
const legNames1 = ["Exp","Model 1","Model 2","Model 3","Model 4","Model 5","Model 6"];
const legKeys1 = ["exp","m1","m2","m3","m4","m5","m6"];
const legLine1 = [[27,125,135],[182,237,238],[327,385,392],[477,535,538],[620,678,681],[766,824,828],[916,974,981]];
const legNames2 = ["Error of Model 1","Error of Model 2","Error of Model 3","Error of Model 4","Error of Model 5"];
const legKeys2 = ["e1","e2","e3","e4","e5"];
const legLine2 = [[23,68,70],[238,271,273],[439,477,480],[644,681,685],[851,886,903]];
const ns="http://www.w3.org/2000/svg";
const lg=document.createElementNS(ns,"svg");
lg.setAttribute("width",1068); lg.setAttribute("height",90);
lg.style.position="absolute"; lg.style.left="0px"; lg.style.top="0px";
lg.style.fontFamily=FONT; lg.style.fontSize="23.5px";
const box=document.createElementNS(ns,"rect");
box.setAttribute("x",16); box.setAttribute("y",7); box.setAttribute("width",1048); box.setAttribute("height",76);
box.setAttribute("fill","#fff"); box.setAttribute("stroke","#7a7a7a"); box.setAttribute("stroke-width",1.6);
lg.appendChild(box);
function legItem(x1,x2,tx,y,name,stroke,w,dash){
  const l=document.createElementNS(ns,"line");
  l.setAttribute("x1",x1); l.setAttribute("x2",x2); l.setAttribute("y1",y); l.setAttribute("y2",y);
  l.setAttribute("stroke",stroke); l.setAttribute("stroke-width",w);
  if(dash) l.setAttribute("stroke-dasharray",dash);
  lg.appendChild(l);
  const t=document.createElementNS(ns,"text");
  t.setAttribute("x",tx); t.setAttribute("y",y+8); t.setAttribute("fill","#111");
  t.textContent=name; lg.appendChild(t);
}
legNames1.forEach((n,i)=>{const s=lineStyle[legKeys1[i]]; const [a,b,c]=legLine1[i];
  legItem(a,b,c,30,n,s.stroke,s.w+0.6,legKeys1[i]==="exp"?"16,7,16,7,16,7,3,7":null);});
legNames2.forEach((n,i)=>{const s=errStyle[legKeys2[i]]; const [a,b,c]=legLine2[i];
  legItem(a,b,c,62,n,s.stroke,1.6,"8,3,2,3");});
root.appendChild(lg);
</script></body></html>
